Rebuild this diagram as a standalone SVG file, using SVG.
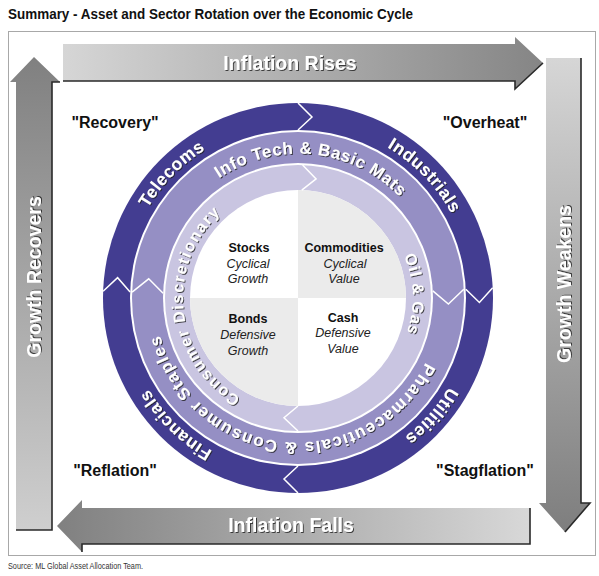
<svg xmlns="http://www.w3.org/2000/svg" width="599" height="576" viewBox="0 0 599 576">
<defs>
<style>
.rt{font-family:"Liberation Sans",Arial,sans-serif;font-weight:bold;fill:#fff;filter:url(#sh)}
.at{font-family:"Liberation Sans",Arial,sans-serif;font-weight:bold;font-size:19.5px;fill:#fff;text-anchor:middle;filter:url(#sh)}
.cn{font-family:"Liberation Sans",Arial,sans-serif;font-weight:bold;font-size:16px;fill:#111;text-anchor:middle}
.qb{font-family:"Liberation Sans",Arial,sans-serif;font-weight:bold;font-size:12.5px;fill:#111;text-anchor:middle}
.qi{font-family:"Liberation Sans",Arial,sans-serif;font-style:italic;font-size:12.5px;fill:#222;text-anchor:middle}
.chev{fill:none;stroke:#fff;stroke-width:1.5}
.edge{fill:none;stroke:#2a2a2a;stroke-width:1.6}
</style>
<filter id="sh" x="-10%" y="-10%" width="120%" height="130%">
<feDropShadow dx="1" dy="1" stdDeviation="0.6" flood-color="#222" flood-opacity="0.8"/>
</filter>
<linearGradient id="gTop" x1="0" y1="0" x2="1" y2="0"><stop offset="0" stop-color="#d6d6d6"/><stop offset="1" stop-color="#858585"/></linearGradient>
<linearGradient id="gRight" x1="0" y1="0" x2="0" y2="1"><stop offset="0" stop-color="#d6d6d6"/><stop offset="1" stop-color="#7e7e7e"/></linearGradient>
<linearGradient id="gBot" x1="0" y1="0" x2="1" y2="0"><stop offset="0" stop-color="#808080"/><stop offset="1" stop-color="#d8d8d8"/></linearGradient>
<linearGradient id="gLeft" x1="0" y1="0" x2="0" y2="1"><stop offset="0" stop-color="#808080"/><stop offset="1" stop-color="#cfcfcf"/></linearGradient>
<path id="pTel" d="M422.8,420.7 A175,175 0 0 1 173.2,175.3 A175,175 0 0 1 422.8,420.7"/>
<path id="pInd" d="M172.1,419.6 A175,175 0 0 1 423.9,176.4 A175,175 0 0 1 172.1,419.6"/>
<path id="pUti" d="M166.9,182 A175,175 0 0 1 429.1,414 A175,175 0 0 1 166.9,182"/>
<path id="pFin" d="M419.6,172.1 A175,175 0 0 1 176.4,423.9 A175,175 0 0 1 419.6,172.1"/>
<path id="pInfo" d="M282.9,441.7 A144.5,144.5 0 0 1 313.1,154.3 A144.5,144.5 0 0 1 282.9,441.7"/>
<path id="pPha" d="M313.1,154.3 A144.5,144.5 0 0 1 282.9,441.7 A144.5,144.5 0 0 1 313.1,154.3"/>
<path id="pCD" d="M412.4,286 A115,115 0 0 1 183.6,310 A115,115 0 0 1 412.4,286"/>
<path id="pOil" d="M183.1,302 A115,115 0 0 1 412.9,294 A115,115 0 0 1 183.1,302"/>
</defs>

<rect x="0" y="0" width="599" height="576" fill="#fff"/>
<text x="8" y="19" font-family="'Liberation Sans',Arial,sans-serif" font-weight="bold" font-size="15" fill="#111" textLength="405" lengthAdjust="spacingAndGlyphs">Summary - Asset and Sector Rotation over the Economic Cycle</text>
<rect x="8.5" y="31.5" width="587" height="524" fill="#fff" stroke="#a8a8a8" stroke-width="1"/>

<g id="arrow-inflation-rises">
<polygon points="63,44 515,44 515,37 543,63 515,89 515,81 63,81" fill="url(#gTop)"/>
<polyline class="edge" points="63,81 515,81 515,89 543,63"/>
<text class="at" x="290" y="70">Inflation Rises</text>
</g>
<g id="arrow-growth-weakens">
<polygon points="546,58 581,58 581,503 590,503 565,532 539,503 546,503" fill="url(#gRight)"/>
<polyline class="edge" points="581,58 581,503 590,503 565,532"/>
<text class="at" transform="translate(571,284) rotate(-90)" x="0" y="0">Growth Weakens</text>
</g>
<g id="arrow-inflation-falls">
<polygon points="530,508 82,508 82,500 57,526 82,552 82,544 530,544" fill="url(#gBot)"/>
<polyline class="edge" points="82,552 82,544 530,544 530,508"/>
<text class="at" x="291" y="532">Inflation Falls</text>
</g>
<g id="arrow-growth-recovers">
<polygon points="16,530 16,82 10,82 34,57 60,82 52,82 52,530" fill="url(#gLeft)"/>
<polyline class="edge" points="60,82 52,82 52,530 16,530"/>
<text class="at" transform="translate(41,277) rotate(-90)" x="0" y="0">Growth Recovers</text>
</g>

<g id="phase-labels">
<text class="cn" x="115" y="128">"Recovery"</text>
<text class="cn" x="485" y="128">"Overheat"</text>
<text class="cn" x="115" y="476">"Reflation"</text>
<text class="cn" x="485" y="476">"Stagflation"</text>
</g>

<g id="wheel">
<circle cx="298" cy="298" r="195" fill="#433d91"/>
<circle cx="298" cy="298" r="168" fill="#fff"/>
<circle cx="298" cy="298" r="166" fill="#958fc4"/>
<circle cx="298" cy="298" r="135" fill="#fff"/>
<circle cx="298" cy="298" r="133" fill="#c9c5e1"/>
<circle cx="298" cy="298" r="108" fill="#fff"/>
<path d="M298,298 L298,190 A108,108 0 0 1 406,298 Z" fill="#ebebeb"/>
<path d="M298,298 L298,406 A108,108 0 0 1 190,298 Z" fill="#ebebeb"/>
</g>

<g id="chevrons">
<polyline class="chev" points="298,103 312,117 298,130"/>
<polyline class="chev" points="492.7,287.8 479.4,302.5 465.8,289.2"/>
<polyline class="chev" points="298,493 284,479 298,466"/>
<polyline class="chev" points="103.1,291.2 117.6,277.7 130.1,292.1"/>
<polyline class="chev" points="463.8,289.3 448.4,304.1 432.8,290.9"/>
<polyline class="chev" points="132.1,292.2 148.7,278.8 163.1,293.3"/>
<polyline class="chev" points="302.6,165.1 316.1,178.9 301.8,190.1"/>
<polyline class="chev" points="298,431 284,417.7 298,406"/>
</g>

<g id="sector-telecoms"><text class="rt" font-size="17.5" letter-spacing="0.5" text-anchor="middle"><textPath href="#pTel" startOffset="50%">Telecoms</textPath></text></g>
<g id="sector-industrials"><text class="rt" font-size="17.5" letter-spacing="0.5" text-anchor="middle"><textPath href="#pInd" startOffset="50%">Industrials</textPath></text></g>
<g id="sector-utilities"><text class="rt" font-size="17.5" letter-spacing="0.5" text-anchor="middle"><textPath href="#pUti" startOffset="50%">Utilities</textPath></text></g>
<g id="sector-financials"><text class="rt" font-size="17.5" letter-spacing="0.5" text-anchor="middle"><textPath href="#pFin" startOffset="50%">Financials</textPath></text></g>
<g id="sector-infotech"><text class="rt" font-size="17" letter-spacing="0.6" text-anchor="middle"><textPath href="#pInfo" startOffset="50%">Info Tech &amp; Basic Mats</textPath></text></g>
<g id="sector-pharma"><text class="rt" font-size="17" letter-spacing="1.2" text-anchor="middle"><textPath href="#pPha" startOffset="50%">Pharmaceuticals &amp; Consumer Staples</textPath></text></g>
<g id="sector-consdisc"><text class="rt" font-size="16" letter-spacing="1.4" text-anchor="middle"><textPath href="#pCD" startOffset="50%">Consumer Discretionary</textPath></text></g>
<g id="sector-oilgas"><text class="rt" font-size="16" letter-spacing="0.8" text-anchor="middle"><textPath href="#pOil" startOffset="50%">Oil &amp; Gas</textPath></text></g>

<g id="asset-stocks"><text class="qb" x="249" y="252">Stocks</text><text class="qi" x="248" y="267.5">Cyclical</text><text class="qi" x="248" y="283">Growth</text></g>
<g id="asset-commodities"><text class="qb" x="344" y="252">Commodities</text><text class="qi" x="345" y="267.5">Cyclical</text><text class="qi" x="344" y="283">Value</text></g>
<g id="asset-bonds"><text class="qb" x="248" y="323">Bonds</text><text class="qi" x="248" y="339">Defensive</text><text class="qi" x="248" y="355">Growth</text></g>
<g id="asset-cash"><text class="qb" x="343" y="322">Cash</text><text class="qi" x="343" y="337">Defensive</text><text class="qi" x="343" y="352.5">Value</text></g>

<text x="8" y="569" font-family="'Liberation Sans',Arial,sans-serif" font-size="9" fill="#333" textLength="135" lengthAdjust="spacingAndGlyphs">Source: ML Global Asset Allocation Team.</text>
</svg>
